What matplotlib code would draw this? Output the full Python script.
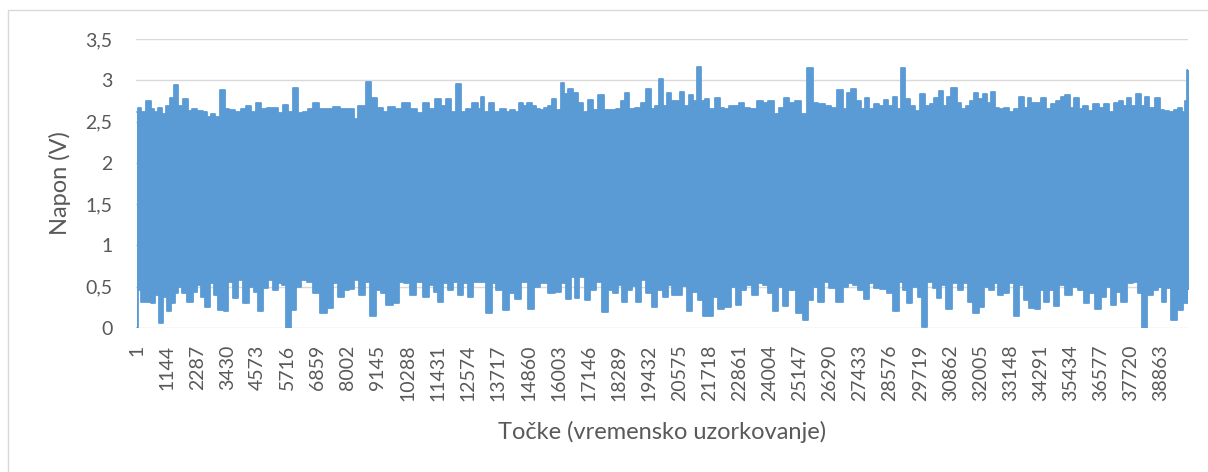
import matplotlib
matplotlib.use("Agg")
import matplotlib.pyplot as plt
from matplotlib.patches import Rectangle

plt.rcParams['font.family'] = ['Lato', 'DejaVu Sans']

# upper edge of the signal band (sample index, voltage)
up_idx = [1, 90, 242, 431, 596, 722, 874, 1026, 1190, 1317, 1481, 1633, 1860, 2012, 2164, 2392, 2582, 2708, 2873, 3050,
          3252, 3404, 3594, 3847, 4036, 4226, 4416, 4606, 4795, 5048, 5238, 5428, 5643, 5807, 5997, 6187, 6377, 6566, 6781, 7009,
          7262, 7578, 7831, 8147, 8337, 8464, 8590, 8754, 8970, 9223, 9412, 9665, 9918, 10209, 10488, 10741, 10968, 11183, 11436, 11626,
          11841, 12006, 12195, 12385, 12575, 12828, 13018,
          13081, 13271, 13461, 13650, 13904, 14093, 14245, 14410, 14599, 14726, 14890, 15067, 15232, 15358, 15548, 15675, 15826, 15991, 16155, 16282,
          16434, 16661, 16813, 17003, 17218, 17382, 17635, 17825, 18078, 18268, 18432, 18584, 18774, 19027, 19217, 19444, 19596, 19723, 19912, 20039,
          20203, 20355, 20545, 20671, 20861, 21051, 21177, 21329, 21468, 21620, 21810, 22025, 22189, 22379, 22569, 22759, 22910, 23138, 23391, 23644,
          23834, 24087, 24277, 24466, 24631, 24846, 25099, 25289, 25542, 25731, 25984, 26237, 26427,
          26705, 26869, 26996, 27186, 27375, 27565, 27692, 27881, 28071, 28261, 28425, 28577, 28767, 28893, 29058, 29235, 29399, 29614, 29817, 29994,
          30158, 30323, 30538, 30664, 30791, 31006, 31208, 31360, 31550, 31676, 31828, 31993, 32182, 32309, 32473, 32625, 32815, 33005, 33194, 33384,
          33574, 33764, 33865, 34017, 34206, 34396, 34586, 34776, 34965, 35130, 35307, 35471, 35661, 35813, 35977, 36167, 36420, 36610, 36774, 36989,
          37179, 37369, 37495, 37647, 37812, 38001, 38191, 38318, 38507, 38722, 38887, 39077, 39266, 39456, 39583, 39709, 39810, 39899, 39988]
up_val = [2.61, 2.67, 2.61, 2.75, 2.65, 2.61, 2.66, 2.59, 2.69, 2.79, 2.94, 2.69, 2.77, 2.63, 2.65, 2.63, 2.61, 2.55, 2.59, 2.56,
          2.88, 2.65, 2.64, 2.61, 2.65, 2.69, 2.61, 2.72, 2.65, 2.67, 2.67, 2.60, 2.70, 2.61, 2.91, 2.60, 2.61, 2.65, 2.72, 2.65,
          2.65, 2.68, 2.65, 2.65, 2.53, 2.69, 2.69, 2.98, 2.78, 2.67, 2.61, 2.68, 2.65, 2.73, 2.65, 2.60, 2.73, 2.65, 2.77, 2.69,
          2.77, 2.61, 2.96, 2.61, 2.65, 2.73, 2.65,
          2.80, 2.61, 2.73, 2.61, 2.65, 2.61, 2.64, 2.61, 2.73, 2.69, 2.73, 2.69, 2.65, 2.64, 2.67, 2.69, 2.77, 2.64, 2.97, 2.83,
          2.90, 2.85, 2.73, 2.61, 2.76, 2.64, 2.82, 2.64, 2.64, 2.65, 2.75, 2.84, 2.65, 2.67, 2.73, 2.90, 2.65, 2.69, 3.02, 2.69,
          2.84, 2.75, 2.75, 2.86, 2.69, 2.82, 2.75, 3.16, 2.75, 2.77, 2.65, 2.79, 2.67, 2.65, 2.69, 2.69, 2.72, 2.67, 2.65, 2.75,
          2.73, 2.75, 2.59, 2.67, 2.78, 2.73, 2.75, 2.59, 3.15, 2.73, 2.71, 2.69, 2.67,
          2.88, 2.65, 2.85, 2.90, 2.75, 2.65, 2.78, 2.65, 2.71, 2.69, 2.76, 2.69, 2.80, 2.65, 3.15, 2.77, 2.69, 2.63, 2.83, 2.69,
          2.71, 2.78, 2.87, 2.69, 2.80, 2.91, 2.73, 2.65, 2.69, 2.75, 2.84, 2.77, 2.83, 2.73, 2.86, 2.67, 2.65, 2.67, 2.61, 2.65,
          2.80, 2.67, 2.79, 2.73, 2.72, 2.79, 2.65, 2.71, 2.75, 2.80, 2.82, 2.67, 2.78, 2.65, 2.69, 2.63, 2.71, 2.67, 2.71, 2.61,
          2.73, 2.75, 2.69, 2.78, 2.69, 2.83, 2.69, 2.80, 2.67, 2.78, 2.64, 2.63, 2.61, 2.64, 2.67, 2.61, 2.75, 3.12, 3.09]

# lower edge of the signal band
lo_idx = [1, 90, 242, 431, 621, 747, 899, 1064, 1228, 1380, 1506, 1633, 1822, 2012, 2202, 2329, 2493, 2670, 2835, 2999,
          3176, 3404, 3530, 3758, 3910, 4163, 4353, 4517, 4694, 4858, 5048, 5238, 5428, 5579, 5757, 5934, 6124, 6313, 6566, 6819,
          7072, 7325, 7515, 7730, 7958, 8147, 8337, 8527, 8742, 8970, 9160, 9349, 9577, 9855, 10045, 10235, 10462, 10678, 10994, 11183,
          11373, 11500, 11690, 11879, 12069, 12259, 12448, 12638, 12891, 13119,
          13372, 13549, 13714, 14030, 14220, 14473, 14663, 14979, 15169, 15422, 15738, 15991, 16181, 16370, 16560, 16687, 16876, 17091, 17319, 17547,
          17762, 17952, 18141, 18331, 18483, 18711, 18862, 19027, 19217, 19444, 19621, 19849, 20039, 20229, 20393, 20608, 20760, 20962, 21177, 21367,
          21595, 21772, 21936, 22126, 22442, 22632, 22822, 23012, 23239, 23454, 23644, 23834, 24024, 24213, 24403, 24593, 24846, 25162, 25352, 25542,
          25731, 25946, 26174, 26364,
          26680, 26869, 27059, 27249, 27502, 27692, 27881, 28071, 28324, 28577, 28830, 29020, 29146, 29311, 29526, 29716, 29867, 30095, 30285, 30411,
          30601, 30791, 31044, 31234, 31423, 31613, 31866, 32056, 32246, 32435, 32625, 32752, 33005, 33194, 33384, 33574, 33764, 33953, 34168, 34333,
          34497, 34712, 34902, 35092, 35345, 35598, 35851, 36041, 36231, 36484, 36673, 36863, 37053, 37243, 37458, 37685, 37875, 38065, 38229, 38444,
          38634, 38824, 38950, 39140, 39355, 39583, 39772, 39962]
lo_val = [0.0, 0.46, 0.31, 0.32, 0.30, 0.40, 0.06, 0.38, 0.20, 0.30, 0.42, 0.50, 0.42, 0.32, 0.43, 0.52, 0.38, 0.26, 0.54, 0.40,
          0.22, 0.20, 0.56, 0.36, 0.58, 0.30, 0.50, 0.44, 0.21, 0.48, 0.58, 0.46, 0.54, 0.52, 0.0, 0.22, 0.50, 0.58, 0.56, 0.42,
          0.18, 0.24, 0.54, 0.38, 0.46, 0.47, 0.58, 0.40, 0.56, 0.14, 0.46, 0.42, 0.28, 0.30, 0.56, 0.54, 0.40, 0.56, 0.38, 0.52,
          0.44, 0.32, 0.54, 0.46, 0.56, 0.40, 0.54, 0.38, 0.56, 0.56,
          0.18, 0.54, 0.46, 0.22, 0.42, 0.35, 0.56, 0.23, 0.50, 0.54, 0.42, 0.44, 0.54, 0.35, 0.62, 0.36, 0.62, 0.34, 0.46, 0.56,
          0.19, 0.46, 0.42, 0.52, 0.31, 0.46, 0.51, 0.32, 0.58, 0.42, 0.26, 0.46, 0.38, 0.52, 0.40, 0.40, 0.51, 0.21, 0.44, 0.34,
          0.14, 0.15, 0.38, 0.23, 0.25, 0.50, 0.28, 0.46, 0.52, 0.40, 0.54, 0.52, 0.42, 0.20, 0.50, 0.27, 0.46, 0.18, 0.10, 0.34,
          0.50, 0.32, 0.56, 0.48,
          0.31, 0.50, 0.54, 0.52, 0.46, 0.35, 0.54, 0.48, 0.47, 0.42, 0.20, 0.56, 0.46, 0.30, 0.50, 0.38, 0.01, 0.56, 0.49, 0.36,
          0.52, 0.23, 0.54, 0.46, 0.54, 0.32, 0.18, 0.26, 0.50, 0.46, 0.54, 0.40, 0.42, 0.54, 0.15, 0.52, 0.34, 0.24, 0.23, 0.46,
          0.31, 0.46, 0.27, 0.52, 0.40, 0.50, 0.46, 0.30, 0.42, 0.23, 0.38, 0.50, 0.28, 0.44, 0.32, 0.54, 0.56, 0.42, 0.0, 0.40,
          0.46, 0.50, 0.32, 0.48, 0.10, 0.22, 0.30, 0.46]

xtick_vals = list(range(1, 40000, 1143))
ytick_vals = [0, 0.5, 1, 1.5, 2, 2.5, 3, 3.5]
ytick_labels = ['0', '0,5', '1', '1,5', '2', '2,5', '3', '3,5']

blue = '#5B9BD5'
grey_txt = '#595959'

fig = plt.figure(figsize=(12.08, 4.72), dpi=100)
ax = fig.add_axes([136/1208, 144/472, 1052/1208, 289/472])

mid = 1.5
ax.fill_between(up_idx, mid, up_val, step='mid', color=blue, linewidth=0, zorder=2)
ax.fill_between(lo_idx, lo_val, mid, step='mid', color=blue, linewidth=0, zorder=2)
ax.plot(up_idx, up_val, drawstyle='steps-mid', color=blue, lw=1.3,
        solid_joinstyle='round', solid_capstyle='round', zorder=3)
ax.plot(lo_idx, lo_val, drawstyle='steps-mid', color=blue, lw=1.3,
        solid_joinstyle='round', solid_capstyle='round', zorder=3)

ax.set_xlim(-37, 39883)
ax.set_ylim(0, 3.5)
ax.set_yticks(ytick_vals)
ax.set_yticklabels(ytick_labels)
ax.set_xticks(xtick_vals)
ax.set_xticklabels([str(v) for v in xtick_vals], rotation=90)
ax.tick_params(axis='y', length=0, pad=17, labelsize=14, labelcolor=grey_txt)
ax.tick_params(axis='x', length=0, pad=12, labelsize=14, labelcolor=grey_txt)
ax.grid(axis='y', color='#D9D9D9', lw=1.0)
ax.set_axisbelow(True)
for s in ax.spines.values():
    s.set_visible(False)

ax.set_ylabel('Napon (V)', fontsize=17, color=grey_txt, labelpad=10)
fig.text(662/1208, 1 - 432/472, 'Točke (vremensko uzorkovanje)', fontsize=17,
         color=grey_txt, ha='center', va='center')

fig.patches.append(Rectangle((8/1208, -0.1), 1.2, (462/472) + 0.1, transform=fig.transFigure,
                             fill=False, edgecolor='#D9D9D9', lw=1.0))

fig.savefig('out.png', dpi=100)
